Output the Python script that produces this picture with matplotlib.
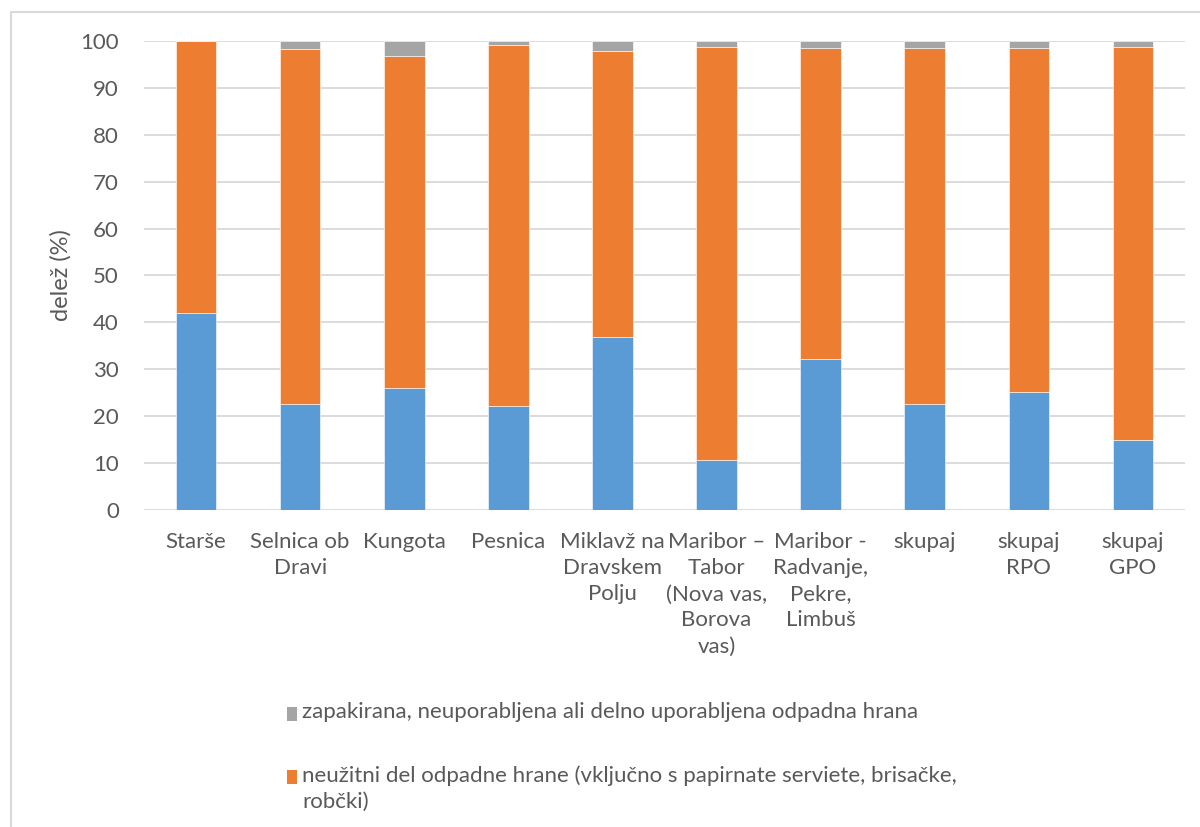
import numpy as np
import matplotlib.pyplot as plt
from matplotlib.lines import Line2D
from matplotlib.patches import Rectangle

# Categories and series values (% share)
categories = ["Starše", "Selnica ob\nDravi", "Kungota", "Pesnica",
              "Miklavž na\nDravskem\nPolju",
              "Maribor –\nTabor\n(Nova vas,\nBorova\nvas)",
              "Maribor -\nRadvanje,\nPekre,\nLimbuš",
              "skupaj", "skupaj\nRPO", "skupaj\nGPO"]
uzitni = [42.0, 22.6, 26.0, 22.2, 36.9, 10.7, 32.2, 22.6, 25.2, 15.0]
neuzitni = [58.0, 75.6, 70.7, 77.0, 61.0, 88.1, 66.4, 75.9, 73.3, 83.8]
zapakirana = [0.0, 1.8, 3.3, 0.8, 2.1, 1.2, 1.4, 1.5, 1.5, 1.2]

label_zap = "zapakirana, neuporabljena ali delno uporabljena odpadna hrana"
label_neu = "neužitni del odpadne hrane (vključno s papirnate serviete, brisačke,\nrobčki)"

BLUE = "#5B9BD5"
ORANGE = "#ED7D31"
GRAY = "#A5A5A5"
TXT = "#595959"
GRID = "#D9D9D9"

plt.rcParams['font.family'] = ['Lato', 'DejaVu Sans']

W, H = 1200, 827
fig = plt.figure(figsize=(12, 8.27), dpi=100)
ax = fig.add_axes([144 / W, 1 - 510 / H, (1185 - 144) / W, (510 - 41) / H])

x = np.arange(len(categories))
bw = 0.39
b1 = np.array(uzitni)
b2 = b1 + np.array(neuzitni)
ax.bar(x, uzitni, bw, color=BLUE, edgecolor="white", linewidth=0.4, zorder=3)
ax.bar(x, neuzitni, bw, bottom=b1, color=ORANGE, edgecolor="white", linewidth=0.4, zorder=3)
ax.bar(x, zapakirana, bw, bottom=b2, color=GRAY, edgecolor="white", linewidth=0.4, zorder=3)

ax.set_xlim(-0.5, len(categories) - 0.5)
ax.set_ylim(0, 100)
ax.set_yticks(np.arange(0, 101, 10))
ax.yaxis.grid(True, color=GRID, linewidth=1.3, zorder=0)
for s in ax.spines.values():
    s.set_visible(False)
ax.tick_params(axis="both", length=0, labelsize=16, colors=TXT, pad=18)
ax.tick_params(axis="x", pad=16)
ax.set_xticks(x)
ax.set_xticklabels(categories, linespacing=1.38)
ax.set_ylabel("delež (%)", fontsize=17, color=TXT, labelpad=6)

# chart frame (left and top edges)
fig.add_artist(Line2D([11 / W, 11 / W, 1], [0, 1 - 12 / H, 1 - 12 / H],
                      transform=fig.transFigure, color=GRID, linewidth=1.5))

# legend entries
for yc, col, lab in [(714, GRAY, label_zap), (777, ORANGE, label_neu)]:
    fig.add_artist(Rectangle((287 / W, 1 - (yc + 7) / H), 10 / W, 14 / H,
                             transform=fig.transFigure, color=col, linewidth=0))
    fig.text(302 / W, 1 - (yc - 12) / H, lab, fontsize=16, color=TXT,
             va="top", ha="left", linespacing=1.4)

fig.savefig("out.png", dpi=100)
